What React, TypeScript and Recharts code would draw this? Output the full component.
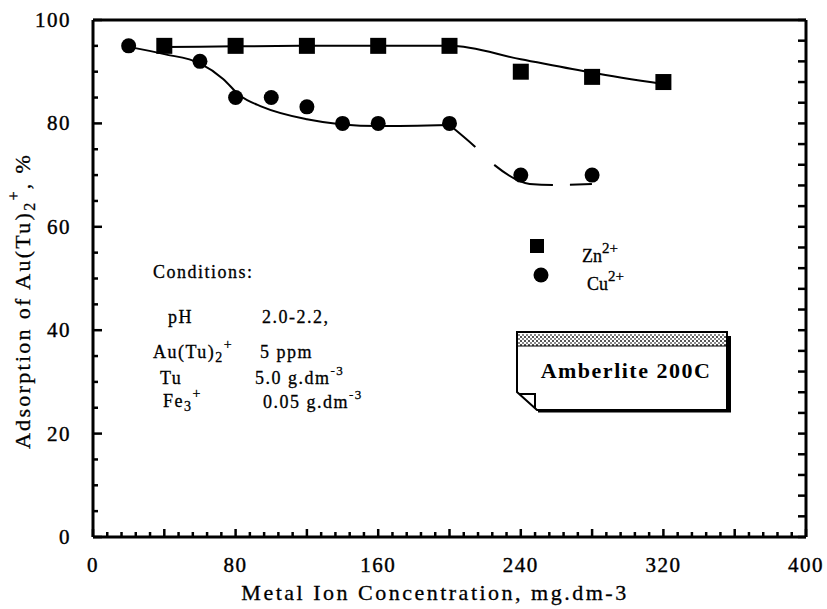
import React from 'react';
import { ComposedChart, Line, Scatter, XAxis, YAxis, Legend } from 'recharts';

const W = 827;
const H = 609;
const FONT = '"Liberation Serif", "Times New Roman", serif';

// Measured points
const znConc = [40, 80, 120, 160, 200, 240, 280, 320];
const znAds = [95, 95, 95, 95, 95, 90, 89, 88];
const cuConc = [20, 60, 80, 100, 120, 140, 160, 200, 240, 280];
const cuAds = [95, 92, 85, 85, 83.2, 80, 80, 80, 70, 70];

// Fitted curves
const znFitConc = [40, 80, 120, 160, 200, 240, 280, 320];
const znFitAds = [94.8, 94.9, 95, 95, 95, 92.4, 89.8, 87.6];
const cuFitConc = [20, 40, 60, 73, 82, 95, 120, 140, 160, 200];
const cuFitAds = [94.8, 93.4, 91.6, 88.6, 85.5, 83.2, 80.8, 79.8, 79.5, 79.7];
const cuTailConc = [200, 214, 225, 245, 258, 280];
const cuTailAds = [79.7, 75.6, 72, 68.3, 68.1, 68.3];

// Axis ticks
const xLabelTicks = [0, 80, 160, 240, 320, 400];
const yLabelTicks = [0, 20, 40, 60, 80, 100];
const xTicks = Array.from({ length: 51 }, (_, i) => i * 8);
const yLeftTicks = Array.from({ length: 21 }, (_, i) => i * 5);
const yRightTicks = Array.from({ length: 26 }, (_, i) => i * 4);

const toPoints = (xs: number[], ys: number[]) => xs.map((x, i) => ({ x, y: ys[i] }));
const znData = toPoints(znConc, znAds);
const cuData = toPoints(cuConc, cuAds);
const znFit = toPoints(znFitConc, znFitAds);
const cuFit = toPoints(cuFitConc, cuFitAds);
const cuTail = toPoints(cuTailConc, cuTailAds);

const tickText = { fontFamily: FONT, fontSize: 21, fill: '#000', stroke: '#000', strokeWidth: 0.4, letterSpacing: 1.5 };

const XTick = (props: any) => {
  const { x, y, payload } = props;
  const v = payload.value;
  const len = v % 40 === 0 ? 8 : 5;
  const px = Number(x);
  const py = Number(y);
  return (
    <g>
      <path d={`M${px},${py} L${px},${py - len}`} stroke="#000" strokeWidth={2.5} fill="none" />
      {xLabelTicks.includes(v) && (
        <text x={px} y={py + 35} textAnchor="middle" {...tickText}>{v}</text>
      )}
    </g>
  );
};

const YLeftTick = (props: any) => {
  const { x, y, payload } = props;
  const v = payload.value;
  const major = yLabelTicks.includes(v);
  const px = Number(x);
  const py = Number(y);
  return (
    <g>
      <path d={`M${px},${py} L${px + (major ? 9 : 5)},${py}`} stroke="#000" strokeWidth={2.5} fill="none" />
      {major && (
        <text x={px - 22} y={py + 7} textAnchor="end" {...tickText}>{v}</text>
      )}
    </g>
  );
};

const YRightTick = (props: any) => {
  const px = Number(props.x);
  const py = Number(props.y);
  return (
    <g>
      <path d={`M${px},${py} L${px - 8},${py}`} stroke="#000" strokeWidth={2.5} fill="none" />
    </g>
  );
};

const Square = (p: any) => <rect x={p.cx - 8} y={p.cy - 8} width={16} height={16} fill="#000" />;
const Dot = (p: any) => <circle cx={p.cx} cy={p.cy} r={7.5} fill="#000" />;

const LegendContent = () => (
  <svg width={130} height={65} style={{ display: 'block' }}>
    <rect x={5} y={7} width={14} height={14} fill="#000" />
    <text x={57} y={30} fontFamily={FONT} fontSize={18} fill="#000" stroke="#000" strokeWidth={0.3}>
      Zn<tspan dy={-9} fontSize={15}>2+</tspan>
    </text>
    <circle cx={16} cy={43} r={7.5} fill="#000" />
    <text x={62} y={58} fontFamily={FONT} fontSize={18} fill="#000" stroke="#000" strokeWidth={0.3}>
      Cu<tspan dy={-9} fontSize={15}>2+</tspan>
    </text>
  </svg>
);

const cond = { fontFamily: FONT, fontSize: 18, fill: '#000', stroke: '#000', strokeWidth: 0.3, letterSpacing: 1.5 };

export default function App() {
  return (
    <div style={{ position: 'absolute', left: 0, top: 0, width: W, height: H, background: '#fff' }}>
      <ComposedChart
        width={W}
        height={H}
        margin={{ top: 10, right: 11, bottom: 32, left: 33 }}
      >
        <XAxis
          dataKey="x"
          type="number"
          domain={[0, 400]}
          allowDataOverflow
          ticks={xTicks}
          interval={0}
          tickSize={0}
          tickMargin={0}
          tickLine={false}
          axisLine={{ stroke: '#000', strokeWidth: 3 }}
          tick={XTick}
          height={40}
        />
        <XAxis
          xAxisId="top"
          orientation="top"
          type="number"
          domain={[0, 400]}
          allowDataOverflow
          tick={false}
          tickLine={false}
          axisLine={{ stroke: '#000', strokeWidth: 3 }}
          height={10}
        />
        <YAxis
          type="number"
          domain={[0, 100]}
          allowDataOverflow
          ticks={yLeftTicks}
          interval={0}
          tickSize={0}
          tickMargin={0}
          tickLine={false}
          axisLine={{ stroke: '#000', strokeWidth: 3 }}
          tick={YLeftTick}
          width={60}
        />
        <YAxis
          yAxisId="right"
          orientation="right"
          type="number"
          domain={[0, 100]}
          allowDataOverflow
          ticks={yRightTicks}
          interval={0}
          tickSize={0}
          tickMargin={0}
          tickLine={false}
          axisLine={{ stroke: '#000', strokeWidth: 3 }}
          tick={YRightTick}
          width={10}
        />
        <Line data={znFit} dataKey="y" type="monotone" stroke="#000" strokeWidth={2} dot={false} activeDot={false} isAnimationActive={false} legendType="none" />
        <Line data={cuFit} dataKey="y" type="monotone" stroke="#000" strokeWidth={2} dot={false} activeDot={false} isAnimationActive={false} legendType="none" />
        <Line data={cuTail} dataKey="y" type="monotone" stroke="#000" strokeWidth={2} strokeDasharray="34 26 64 17 22 200" dot={false} activeDot={false} isAnimationActive={false} legendType="none" />
        <Scatter name="Zn2+" data={znData} dataKey="y" shape={Square} isAnimationActive={false} />
        <Scatter name="Cu2+" data={cuData} dataKey="y" shape={Dot} isAnimationActive={false} />
        <Legend
          layout="vertical"
          align="center"
          verticalAlign="middle"
          content={LegendContent}
          wrapperStyle={{ position: 'absolute', left: 525, top: 232, width: 130, height: 65 }}
        />
      </ComposedChart>

      <svg width={W} height={H} style={{ position: 'absolute', left: 0, top: 0, pointerEvents: 'none' }}>
        <defs>
          <pattern id="hatch" width="4" height="4" patternUnits="userSpaceOnUse">
            <rect width="4" height="4" fill="#fff" />
            <rect x="0" y="0" width="2" height="2" fill="#555" />
            <rect x="2" y="2" width="2" height="2" fill="#888" />
          </pattern>
        </defs>

        {/* Axis titles */}
        <text x={435} y={600} textAnchor="middle" fontFamily={FONT} fontSize={22} letterSpacing={2.5} fill="#000" stroke="#000" strokeWidth={0.3}>
          Metal Ion Concentration,  mg.dm-3
        </text>
        <text
          x={0}
          y={0}
          transform="translate(30,301) rotate(-90)"
          textAnchor="middle"
          fontFamily={FONT}
          fontSize={22}
          letterSpacing={2.3}
          fill="#000"
          stroke="#000"
          strokeWidth={0.3}
        >
          Adsorption of Au(Tu)<tspan dy={5} fontSize={16}>2</tspan>
          <tspan dy={-16} fontSize={16}>+</tspan>
          <tspan dy={11}>, %</tspan>
        </text>

        {/* Conditions */}
        <text x={153} y={278} {...cond}>Conditions:</text>
        <text x={168} y={323} {...cond}>pH</text>
        <text x={262} y={323} {...cond}>2.0-2.2,</text>
        <text x={153} y={358} {...cond}>
          Au(Tu)<tspan dy={4} fontSize={14}>2</tspan>
          <tspan dy={-13} fontSize={14}>+</tspan>
        </text>
        <text x={260} y={358} {...cond}>5 ppm</text>
        <text x={160} y={384} {...cond}>Tu</text>
        <text x={255} y={384} {...cond}>
          5.0 g.dm<tspan dy={-9} fontSize={13}>-3</tspan>
        </text>
        <text x={163} y={407} {...cond}>
          Fe<tspan dy={4} fontSize={14}>3</tspan>
          <tspan dy={-13} fontSize={14}>+</tspan>
        </text>
        <text x={263} y={408} {...cond}>
          0.05 g.dm<tspan dy={-9} fontSize={13}>-3</tspan>
        </text>

        {/* Amberlite label box */}
        <polygon points="517,332 727,332 727,410 537,410 517,392" fill="#fff" stroke="#000" strokeWidth={2} />
        <rect x={518} y={334} width={208} height={12} fill="url(#hatch)" />
        <line x1={518} y1={346} x2={726} y2={346} stroke="#000" strokeWidth={1} />
        <line x1={729} y1={336} x2={729} y2={412} stroke="#000" strokeWidth={4} />
        <line x1={538} y1={411} x2={731} y2={411} stroke="#000" strokeWidth={3} />
        <polyline points="519,394 535,394 535,408" fill="none" stroke="#000" strokeWidth={2} />
        <text x={626} y={378} textAnchor="middle" fontFamily={FONT} fontSize={22} fontWeight="bold" letterSpacing={1.5} fill="#000">
          Amberlite 200C
        </text>
      </svg>
    </div>
  );
}
